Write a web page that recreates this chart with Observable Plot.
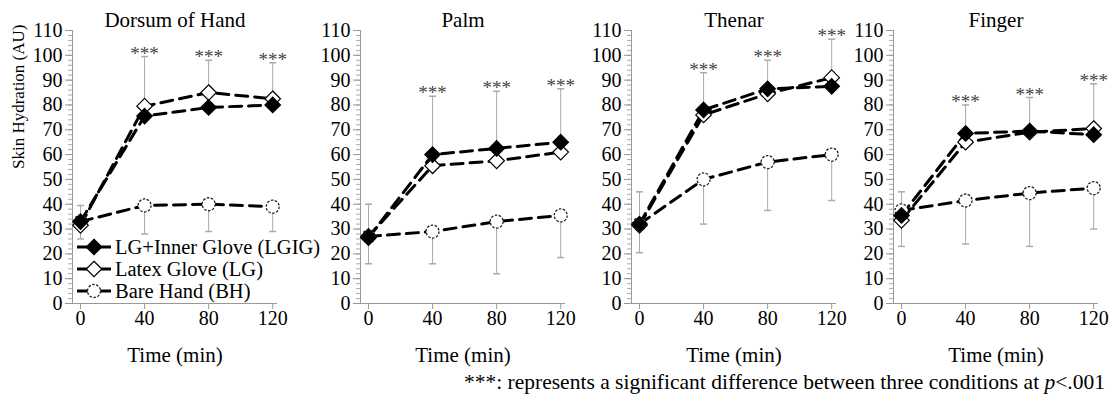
<!DOCTYPE html>
<html><head><meta charset="utf-8">
<script src="https://cdn.jsdelivr.net/npm/d3@7"></script>
<script src="https://cdn.jsdelivr.net/npm/@observablehq/plot@0.6"></script>
<style>
body{margin:0;background:#fff;font-family:"Liberation Serif","Times New Roman",Tinos,"DejaVu Serif",serif;}
#chart{position:relative;width:1116px;height:396px;overflow:hidden;background:#fff;}
.panel{position:absolute;top:0;}
#legend{position:absolute;left:77px;top:236px;font-size:20.5px;line-height:22px;color:#000;}
.row{display:flex;align-items:center;height:22px;white-space:nowrap;}
.row svg{margin-right:4px;overflow:visible}
#caption{position:absolute;right:11px;top:370px;font-size:21.5px;white-space:nowrap;color:#000;}
</style></head><body><div id="chart"></div>
<script>
// ---- data ----
const panels = ["Dorsum of Hand", "Palm", "Thenar", "Finger"];
const times = [0, 40, 80, 120];
const seriesNames = ["LG+Inner Glove (LGIG)", "Latex Glove (LG)", "Bare Hand (BH)"];
const lgig = [[33, 75.5, 79, 80], [26.5, 60, 62.5, 65], [32, 78, 86.5, 87.5], [35.5, 68.5, 69.5, 68]];
const lg   = [[31.5, 79.5, 85, 82.5], [27, 55.5, 57.5, 61], [31.5, 76, 84.5, 91], [33.5, 65, 69, 70.5]];
const bh   = [[33, 39.5, 40, 39], [27, 29, 33, 35.5], [32, 50, 57, 60], [37.5, 41.5, 44.5, 46.5]];
const errTop    = [[39.5, 99.5, 98, 97], [40, 83.5, 85.5, 86.5], [45, 93, 98, 106.5], [45, 80, 83, 88.5]];
const errBottom = [[26, 28, 29, 29], [16, 16, 12, 18.5], [20.5, 32, 37.5, 41.5], [23, 24, 23, 30]];
const starTimes = [40, 80, 120];
const starText = "***";
const yTicks = d3.range(0, 111, 10);
const yMinor = d3.range(0, 111, 2);
const xTicks = [0, 40, 80, 120];
const yLabel = "Skin Hydration (AU)";
const xLabel = "Time (min)";

// ---- layout ----
const axisLeft = [72, 360, 631, 893];
const marginLefts = [72, 50, 50, 50];
const xDomain = [-5, 123];
const plotW = 205;
const serif = "'Liberation Serif', 'Times New Roman', Tinos, 'DejaVu Serif', serif";

const capSymbol = {draw(ctx, size) { const r = Math.sqrt(size / Math.PI); ctx.moveTo(-r, 0); ctx.lineTo(r, 0); }};
const seriesValues = [lgig, lg, bh];
const symbols = ["diamond2", "diamond2", "circle"];
const fills = ["black", "white", "white"];

const chart = document.getElementById("chart");

panels.forEach((name, p) => {
  const rows = [];
  seriesValues.forEach((arr, s) => times.forEach((t, j) => rows.push({series: s, time: t, value: arr[p][j]})));
  const up = times.map((t, j) => ({time: t, from: Math.max(lgig[p][j], lg[p][j]), to: errTop[p][j]}));
  const down = times.map((t, j) => ({time: t, from: bh[p][j], to: errBottom[p][j]}));
  const stars = starTimes.map(t => ({time: t, y: errTop[p][times.indexOf(t)]}));
  const order = [2, 1, 0];
  const ml = marginLefts[p];
  const marks = [
    Plot.axisY({ticks: yMinor, tickSize: 4, stroke: "#aaa", fill: "none", label: null}),
    Plot.axisY({ticks: yTicks, tickSize: 7, tickPadding: 3, stroke: "#999", fill: "black", fontSize: 20, fontFamily: serif, label: null}),
    Plot.axisX({ticks: xTicks, tickSize: 6, tickPadding: 1, stroke: "#999", fill: "black", fontSize: 20, fontFamily: serif, label: null}),
    Plot.ruleX([xDomain[0]], {stroke: "#999"}),
    Plot.ruleY([0], {stroke: "#999"}),
    Plot.ruleX(up, {x: "time", y1: "from", y2: "to", stroke: "#aaa"}),
    Plot.dot(up, {x: "time", y: "to", symbol: capSymbol, r: 3.5, stroke: "#aaa"}),
    Plot.ruleX(down, {x: "time", y1: "from", y2: "to", stroke: "#aaa"}),
    Plot.dot(down, {x: "time", y: "to", symbol: capSymbol, r: 3.5, stroke: "#aaa"}),
    Plot.text(stars, {x: "time", y: "y", text: () => starText, fontSize: 19, fontFamily: serif, fill: "#444", lineAnchor: "bottom", dy: 3, textAnchor: "middle"}),
    ...order.map(s => Plot.line(rows.filter(d => d.series === s), {x: "time", y: "value", stroke: "black", strokeWidth: 3, strokeDasharray: "12,7"})),
    ...order.map(s => Plot.dot(rows.filter(d => d.series === s), {x: "time", y: "value", symbol: symbols[s], r: s === 2 ? 6.5 : 7, fill: fills[s], stroke: s === 2 ? "#222" : "black", strokeWidth: s === 2 ? 1.3 : 1.2, strokeDasharray: s === 2 ? "2.5,1.5" : null})),
    Plot.text([name], {frameAnchor: "top", text: d => d, dy: -10, fontSize: 21, fontFamily: serif, lineAnchor: "middle", fill: "black"}),
    Plot.text([xLabel], {frameAnchor: "bottom", text: d => d, dy: 52, fontSize: 21, fontFamily: serif, lineAnchor: "middle", fill: "black"})
  ];
  if (p === 0) marks.push(Plot.text([yLabel], {frameAnchor: "left", text: d => d, rotate: -90, dx: -54, dy: 2, fontSize: 17, fontFamily: serif, lineAnchor: "middle", fill: "black"}));
  const svg = Plot.plot({
    width: ml + plotW + 10,
    height: 396,
    marginLeft: ml,
    marginRight: 10,
    marginTop: 30,
    marginBottom: 93,
    style: {fontFamily: serif, fontSize: "20px", background: "transparent", overflow: "visible"},
    x: {domain: xDomain},
    y: {domain: [0, 110]},
    marks
  });
  const div = document.createElement("div");
  div.className = "panel";
  div.style.left = (axisLeft[p] - ml) + "px";
  div.appendChild(svg);
  chart.appendChild(div);
});

// legend
const legend = document.createElement("div");
legend.id = "legend";
seriesNames.forEach((n, s) => {
  const row = document.createElement("div");
  row.className = "row";
  const r = s === 2 ? 6.5 : 7;
  const path = d3.symbol(s === 2 ? d3.symbolCircle : d3.symbolDiamond2, Math.PI * r * r)();
  row.innerHTML = `<svg width="34" height="22"><line x1="0" x2="34" y1="11" y2="11" stroke="black" stroke-width="3"/><path d="${path}" transform="translate(17,11)" fill="${fills[s]}" stroke="${s === 2 ? '#222' : 'black'}" stroke-width="${s === 2 ? 1.3 : 1.2}" ${s === 2 ? 'stroke-dasharray="2.5,1.5"' : ''}/></svg><span>${n}</span>`;
  legend.appendChild(row);
});
chart.appendChild(legend);

const cap = document.createElement("div");
cap.id = "caption";
cap.innerHTML = `${starText}: represents a significant difference between three conditions at <i>p</i>&lt;.001`;
chart.appendChild(cap);
</script></body></html>
